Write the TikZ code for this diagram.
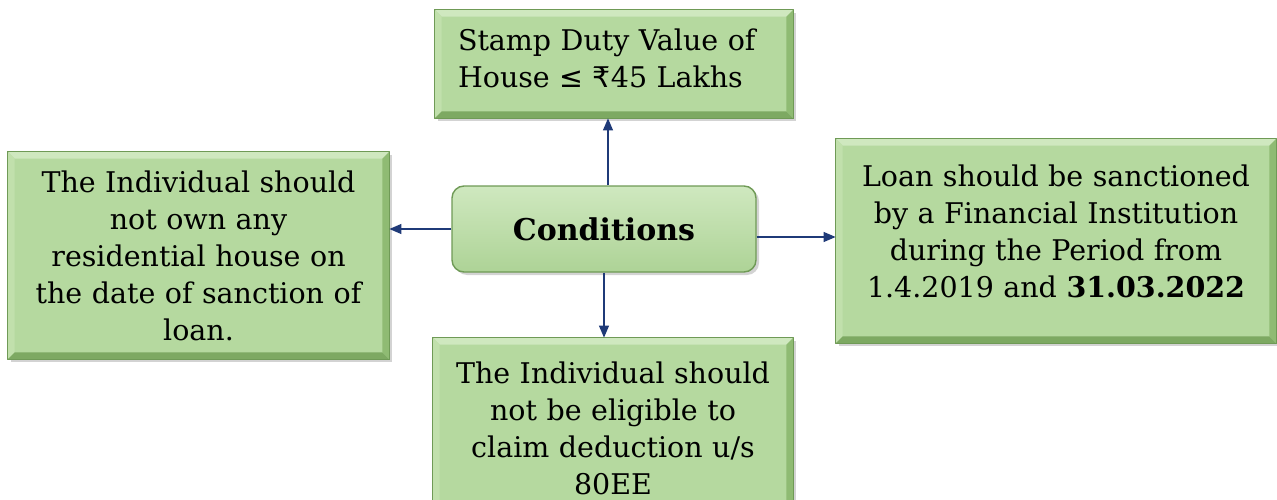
\documentclass[tikz,border=0pt]{standalone}
\usepackage{fontspec}
\setmainfont{DejaVu Serif}
\newfontfamily\symb{DejaVu Sans}
\usetikzlibrary{calc,shadows,arrows.meta}
\definecolor{panelfill}{HTML}{B5D99F}
\definecolor{paneledge}{HTML}{6F9A56}
\definecolor{bevlight}{HTML}{CFE8BF}
\definecolor{bevside}{HTML}{C1E0AC}
\definecolor{bevdark}{HTML}{7DA962}
\definecolor{bevshade}{HTML}{8FBB73}
\definecolor{linkblue}{HTML}{1F3A78}
\tikzset{
  panel/.style={rectangle, fill=panelfill, draw=paneledge, line width=0.8pt,
    drop shadow={opacity=0.35, shadow xshift=3pt, shadow yshift=-3pt},
    inner sep=0pt, align=center},
  hub/.style={rectangle, rounded corners=12pt, top color=bevlight, bottom color=panelfill!80!bevshade,
    draw=paneledge, line width=1.4pt,
    drop shadow={opacity=0.35, shadow xshift=3pt, shadow yshift=-3pt},
    minimum width=304pt, minimum height=86pt, font=\fontsize{30}{34}\selectfont\bfseries},
  link/.style={->, draw=linkblue, line width=1.1pt}
}
\begin{document}
\begin{tikzpicture}[x=1pt, y=-1pt, font=\fontsize{28.5}{37}\selectfont, line join=round, >={Stealth[length=12pt,width=10pt,inset=0pt]}]
		\def\d{7} % bevel width
		\useasboundingbox (0,0) rectangle (1277,500);
		\clip (0,0) rectangle (1277,500);
		\node[panel, minimum width=358pt, minimum height=108pt, text width=312pt, align=left] (duty) at (614,64)
			{Stamp Duty Value of\\House {\symb≤} {\symb₹}45 Lakhs\\[-25pt]\mbox{}};
		\node[panel, minimum width=381pt, minimum height=207pt, text width=372pt] (own) at (198.5,255.5)
			{The Individual should\\not own any\\residential house on\\the date of sanction of\\loan.};
		\node[panel, minimum width=440pt, minimum height=204pt, text width=430pt] (loan) at (1056,241)
			{Loan should be sanctioned\\by a Financial Institution\\during the Period from\\1.4.2019 and \textbf{31.03.2022}\\[-18pt]\mbox{}};
		\node[panel, minimum width=360pt, minimum height=180pt, text width=350pt] (elig) at (613,428)
			{The Individual should\\not be eligible to\\claim deduction u/s\\80EE};
		% bevelled edges
		\foreach \n in {duty,own,loan,elig}{
			\fill[bevlight] (\n.north west) -- (\n.north east) -- ($(\n.north east)+(-\d,\d)$) -- ($(\n.north west)+(\d,\d)$) -- cycle;
			\fill[bevside] (\n.north west) -- ($(\n.north west)+(\d,\d)$) -- ($(\n.south west)+(\d,-\d)$) -- (\n.south west) -- cycle;
			\fill[bevdark] (\n.south west) -- ($(\n.south west)+(\d,-\d)$) -- ($(\n.south east)+(-\d,-\d)$) -- (\n.south east) -- cycle;
			\fill[bevshade] (\n.north east) -- (\n.south east) -- ($(\n.south east)+(-\d,-\d)$) -- ($(\n.north east)+(-\d,\d)$) -- cycle;
			\draw[paneledge, line width=0.8pt] (\n.north west) rectangle (\n.south east);
		}
		\node[hub] (cond) at (604,229) {Conditions};
		% links
		\draw[link] ([xshift=4pt]cond.north) -- ([xshift=4pt]cond.north |- duty.south);
		\draw[link] (cond.west) -- (cond.west -| own.east);
		\draw[link] ([yshift=-8pt]cond.east) -- ([yshift=-8pt]cond.east -| loan.west);
		\draw[link] (cond.south) -- (cond.south |- elig.north);
\end{tikzpicture}
\end{document}
